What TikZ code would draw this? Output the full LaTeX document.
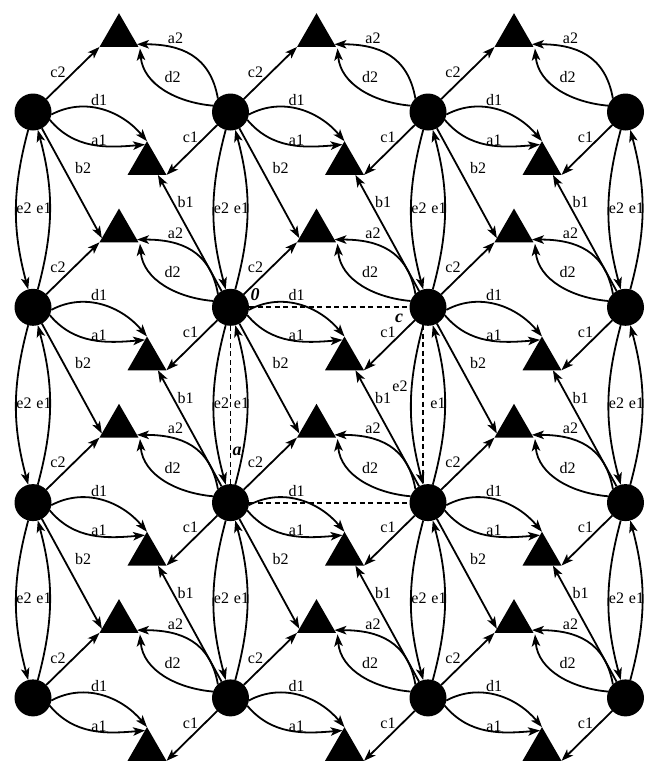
\documentclass[tikz,border=0pt]{standalone}
\usepackage{fontspec}
\setmainfont{Liberation Serif}
\usetikzlibrary{arrows.meta,shapes.geometric,calc}
\begin{document}
\begin{tikzpicture}[x=1pt,y=1pt,
  dot/.style={circle,fill=black,inner sep=0pt,outer sep=0pt,minimum size=37pt},
  tri/.style={regular polygon,regular polygon sides=3,fill=black,inner sep=0pt,outer sep=0pt,minimum size=45pt},
  arr/.style={line width=1.8pt,-{Stealth[length=12pt,width=8.5pt,inset=3pt]}},
  lab/.style={font=\fontsize{16}{16}\selectfont,inner sep=0pt},
  olab/.style={font=\fontsize{18}{18}\selectfont\bfseries\itshape,inner sep=0pt},
  dashline/.style={line width=1.8pt,dash pattern=on 5pt off 3.5pt}]
\useasboundingbox (0,0) rectangle (646,-761);
\fill[white] (0,0) rectangle (646,-761);
\clip (0,0) rectangle (646,-761);
% circles
\foreach \i in {0,...,3}{\foreach \j in {0,...,3}{
  \node[dot] (C-\i-\j) at ({33+197.5*\i},{-112-195.3*\j}) {};}}
% triangles
\foreach \i in {0,1,2}{\foreach \j in {0,...,3}{
  \node[tri] (A-\i-\j) at ({119+197.5*\i},{-35.7-195.3*\j}) {};
  \node[tri] (B-\i-\j) at ({147+197.5*\i},{-163.7-195.3*\j}) {};}}
% edges between circles and triangles
\foreach \i in {0,1,2}{\foreach \j in {0,...,3}{
  \pgfmathtruncatemacro\ip{\i+1}
  \pgfmathtruncatemacro\jp{\j+1}
  \draw[arr] (C-\i-\j) -- (A-\i-\j.corner 2);
  \draw[arr] (C-\i-\j.-8) to[out=28,in=130] (B-\i-\j.corner 1);
  \draw[arr] (C-\i-\j.-25) to[out=-50,in=185] ($(B-\i-\j.corner 1)!0.1!(B-\i-\j.corner 2)$);
  \draw[arr] (C-\ip-\j) -- (B-\i-\j.corner 3);
  \draw[arr] (C-\ip-\j.133) to[out=100,in=0,looseness=1.15] ($(A-\i-\j.corner 3)!0.08!(A-\i-\j.corner 1)$);
  \draw[arr] (C-\ip-\j.160) to[out=175,in=-85] ($(A-\i-\j.corner 3)+(1.5,-1.5)$);
  \node[lab] (Lc2-\i-\j) at ($(C-\i-\j)+(25,40)$) {c2};
  \node[lab] (Ld1-\i-\j) at ($(C-\i-\j)+(66,12)$) {d1};
  \node[lab] (La1-\i-\j) at ($(C-\i-\j)+(66,-28)$) {a1};
  \node[lab] (La2-\i-\j) at ($(C-\ip-\j)+(-55,74)$) {a2};
  \node[lab] (Ld2-\i-\j) at ($(C-\ip-\j)+(-58,35)$) {d2};
  \node[lab] (Lc1-\i-\j) at ($(C-\ip-\j)+(-40,-25)$) {c1};
  \ifnum\j<3
    \draw[arr] (C-\i-\j) -- ($(A-\i-\jp.corner 2)!0.12!(A-\i-\jp.corner 1)$);
    \draw[arr] (C-\ip-\jp) -- ($(B-\i-\j.corner 2)!0.78!(B-\i-\j.corner 3)$);
    \node[lab] (Lb2-\i-\j) at ($(C-\i-\j)+(50,-56)$) {b2};
    \node[lab] (Lb1-\i-\j) at ($(C-\ip-\jp)+(-45,105)$) {b1};
  \fi
}}
% vertical edges between circles
\foreach \i in {0,...,3}{\foreach \j in {0,1,2}{
  \pgfmathtruncatemacro\jp{\j+1}
  \draw[arr] (C-\i-\j) to[out=-105,in=105] (C-\i-\jp);
  \draw[arr] (C-\i-\jp) to[out=75,in=-75] (C-\i-\j);
  \def\exa{-9}\def\eya{-96}\def\exb{11}
  \ifnum\i=2 \ifnum\j=1 \def\exa{-28}\def\eya{-79}\def\exb{10}\fi\fi
  \node[lab] (Le2-\i-\j) at ($(C-\i-\j)+(\exa,\eya)$) {e2};
  \node[lab] (Le1-\i-\j) at ($(C-\i-\j)+(\exb,-96)$) {e1};
}}
% dashed cell
\draw[dashline] (C-1-1) -- (C-2-1);
\draw[dashline] (C-1-2) -- (C-2-2);
\draw[dashline] (C-1-1) -- (C-1-2);
\draw[dashline] (C-2-1.-106) -- (C-2-2.106);
\node[olab] (L0) at (255,-295) {0};
\node[olab] (Lc) at (399,-318) {c};
\node[olab] (La) at (237,-451) {a};
\end{tikzpicture}
\end{document}
